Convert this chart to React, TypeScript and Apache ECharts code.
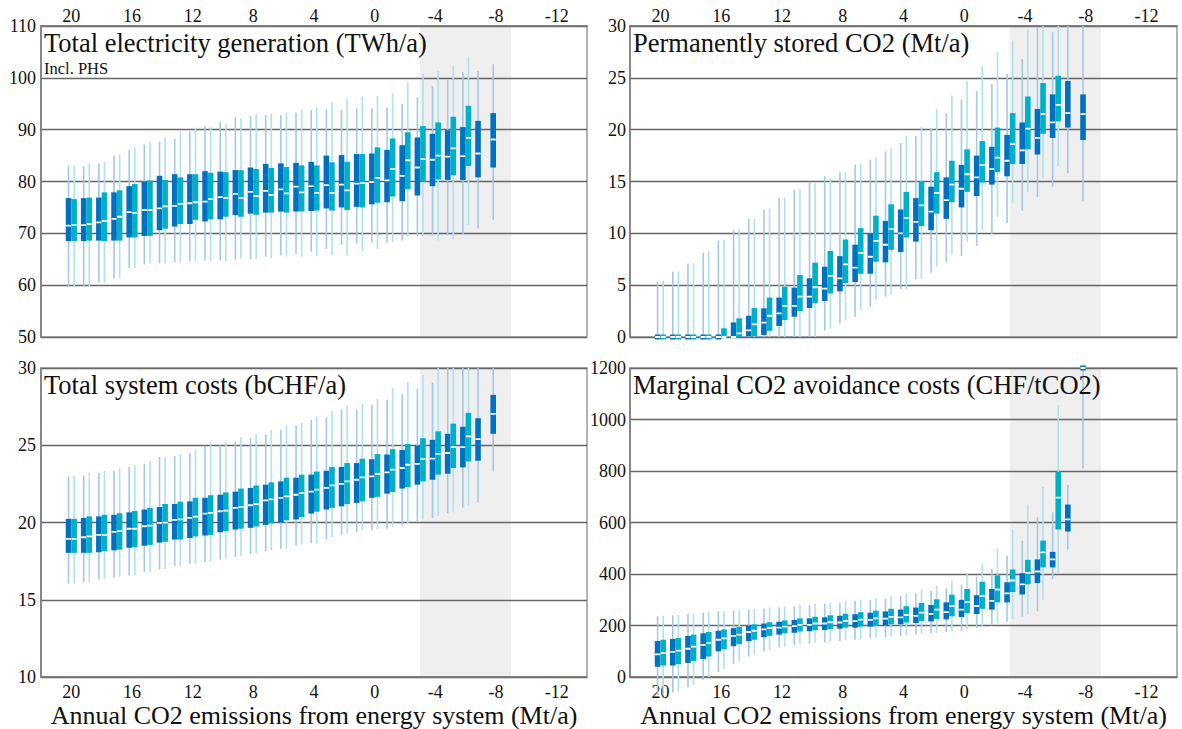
import React, { useEffect, useRef } from 'react';
import * as echarts from 'echarts';

// ---------- data ----------
const X_TICKS = [20, 16, 12, 8, 4, 0, -4, -8, -12];
const X_DARK = [20, 19, 18, 17, 16, 15, 14, 13, 12, 11, 10, 9, 8, 7, 6, 5, 4, 3, 2, 1, 0, -1, -2, -3, -4, -5, -6, -7, -8];
const X_TEAL = [20, 19, 18, 17, 16, 15, 14, 13, 12, 11, 10, 9, 8, 7, 6, 5, 4, 3, 2, 1, 0, -1, -2, -3, -4, -5, -6];
const BAND = [-3, -9];

// [min, Q1, median, Q3, max]
const ELEC_DARK = [
  [59.7, 68.5, 71.5, 76.8, 83.1], [59.7, 68.5, 71.6, 76.8, 83.0], [60.5, 68.6, 72.1, 76.9, 83.5], [61.3, 68.6, 72.8, 77.9, 85.0],
  [63.3, 69.2, 74.1, 79.1, 86.1], [64.0, 69.5, 74.5, 80.0, 87.1], [64.2, 70.6, 74.8, 81.1, 87.7], [64.4, 71.3, 75.3, 81.4, 88.3],
  [64.6, 71.8, 75.8, 81.4, 89.7], [64.7, 72.3, 76.1, 82.0, 90.7], [64.8, 72.7, 77.0, 81.9, 91.5], [64.9, 73.5, 77.6, 82.2, 92.4],
  [65.0, 73.8, 78.0, 82.7, 92.7], [65.5, 74.0, 78.2, 83.4, 92.8], [65.7, 74.2, 78.5, 83.5, 92.8], [66.0, 74.2, 79.0, 83.6, 93.3],
  [66.5, 74.3, 79.1, 83.8, 93.8], [67.0, 74.8, 79.3, 85.0, 93.9], [67.8, 75.0, 79.4, 85.1, 93.8], [68.1, 75.1, 79.6, 85.3, 94.1],
  [68.2, 75.6, 79.9, 85.4, 94.1], [68.2, 76.0, 80.2, 86.1, 94.3], [68.6, 76.2, 81.1, 87.0, 94.9], [69.4, 77.3, 82.7, 88.5, 96.2],
  [69.6, 79.1, 84.2, 89.2, 98.4], [69.7, 80.3, 84.8, 89.9, 99.6], [69.8, 80.3, 84.9, 90.5, 101.1], [71.0, 80.8, 85.4, 91.7, 101.3],
  [72.6, 82.7, 88.1, 93.2, 102.6],
];
const ELEC_TEAL = [
  [59.7, 68.5, 71.6, 76.6, 83.1], [59.7, 68.6, 71.8, 76.9, 83.5], [60.5, 68.5, 72.4, 77.9, 83.8], [61.3, 68.6, 73.2, 78.3, 85.2],
  [63.3, 69.2, 73.9, 79.5, 86.5], [64.2, 69.5, 74.5, 80.2, 87.7], [64.2, 70.9, 75.2, 80.3, 88.4], [64.4, 71.8, 75.7, 80.8, 89.7],
  [64.6, 72.6, 76.0, 81.4, 90.4], [64.7, 72.7, 76.6, 81.7, 90.5], [64.6, 73.2, 76.8, 81.8, 91.1], [65.1, 73.2, 76.8, 82.2, 92.2],
  [65.0, 73.6, 77.2, 82.4, 93.0], [65.2, 74.0, 77.4, 82.6, 93.1], [65.5, 74.0, 77.7, 82.8, 93.3], [65.5, 74.2, 77.9, 83.1, 93.9],
  [65.6, 74.4, 77.8, 83.1, 94.3], [65.7, 74.4, 77.8, 83.7, 95.4], [65.7, 74.5, 78.3, 83.8, 96.0], [66.5, 75.0, 79.7, 85.3, 96.4],
  [67.0, 75.9, 80.7, 86.6, 96.5], [68.3, 77.1, 82.4, 88.3, 97.0], [69.4, 78.5, 84.1, 89.5, 99.1], [69.4, 79.9, 84.3, 90.7, 100.9],
  [68.6, 80.4, 85.0, 91.4, 101.3], [68.9, 81.2, 86.4, 92.5, 102.3], [71.6, 83.0, 88.4, 94.6, 104.1],
];

const CO2_DARK = [
  [0, 0, 0, 0, 5.3], [0, 0, 0, 0, 6.3], [0, 0, 0, 0, 7.1], [0, 0, 0, 0, 8.1],
  [0, 0, 0, 0, 9.3], [0, 0, 0, 1.4, 10.3], [0, 0.07, 0.64, 2.05, 11.4], [0, 0.2, 1.38, 2.77, 12.3],
  [0, 1.06, 2.28, 3.8, 13.4], [0, 1.96, 3.0, 4.76, 14.2], [0, 2.8, 3.9, 5.66, 14.9], [0.65, 3.47, 4.66, 6.78, 15.5],
  [1.3, 4.4, 5.66, 7.8, 15.9], [1.96, 5.3, 6.7, 8.9, 16.6], [2.9, 6.1, 7.74, 10.0, 17.1], [3.9, 7.2, 8.9, 11.2, 17.9],
  [4.6, 8.2, 10.0, 12.3, 18.7], [5.6, 9.2, 11.1, 13.4, 19.4], [6.2, 10.3, 12.1, 14.5, 20.1], [7.2, 11.4, 13.2, 15.4, 21.6],
  [7.8, 12.5, 14.3, 16.6, 22.9], [8.8, 13.6, 15.4, 17.5, 23.7], [9.9, 14.7, 16.2, 18.35, 24.4], [11.0, 15.5, 17.0, 19.5, 25.4],
  [12.2, 16.7, 18.0, 20.7, 26.8], [13.5, 17.6, 19.2, 22.0, 29.9], [14.5, 19.2, 20.7, 23.4, 29.4], [15.8, 20.2, 21.6, 24.7, 30],
  [13.1, 19.0, 21.5, 23.4, 30],
];
const CO2_TEAL = [
  [0, 0, 0, 0, 5.4], [0, 0, 0, 0, 6.35], [0, 0, 0, 0, 7.1], [0, 0, 0, 0, 8.25],
  [0, 0, 0, 0.84, 9.4], [0, 0, 0.35, 1.8, 10.4], [0, 0.07, 1.22, 2.8, 11.4], [0, 0.6, 2.05, 3.8, 12.4],
  [0, 1.64, 3.0, 4.85, 13.4], [0, 2.5, 3.9, 5.98, 14.2], [0, 3.25, 4.8, 7.17, 14.8], [0.8, 4.2, 5.9, 8.3, 15.3],
  [1.6, 5.2, 7.0, 9.4, 15.9], [2.6, 6.1, 8.1, 10.5, 16.7], [3.6, 7.26, 9.26, 11.7, 17.35], [4.1, 8.4, 10.4, 12.8, 18.2],
  [4.6, 9.6, 11.5, 14.0, 19.4], [5.6, 10.7, 12.7, 15.0, 20.3], [6.8, 11.9, 13.9, 15.9, 22.0], [8.0, 13.0, 14.7, 17.0, 23.3],
  [9.2, 14.0, 15.7, 18.1, 24.7], [10.3, 14.9, 16.6, 18.9, 26.1], [11.6, 15.9, 17.3, 20.2, 27.5], [12.9, 16.7, 18.6, 21.6, 28.6],
  [14.0, 18.1, 20.1, 23.2, 29.7], [15.3, 19.6, 21.5, 24.5, 30], [16.5, 20.8, 22.4, 25.2, 30],
];

const COST_DARK = [
  [16.05, 18.04, 18.95, 20.24, 23.0], [16.15, 18.04, 19.05, 20.3, 23.05], [16.3, 18.08, 19.2, 20.4, 23.2], [16.45, 18.2, 19.4, 20.5, 23.35],
  [16.58, 18.37, 19.6, 20.66, 23.6], [16.8, 18.5, 19.76, 20.84, 23.8], [16.97, 18.7, 19.98, 21.0, 24.24], [17.18, 18.9, 20.17, 21.2, 24.3],
  [17.33, 19.0, 20.3, 21.37, 24.5], [17.44, 19.16, 20.58, 21.6, 24.97], [17.6, 19.37, 20.73, 21.8, 25.0], [17.78, 19.55, 20.95, 22.0, 25.25],
  [17.98, 19.66, 21.12, 22.24, 25.46], [18.15, 19.85, 21.44, 22.45, 25.7], [18.3, 20.0, 21.6, 22.66, 26.0], [18.5, 20.2, 21.8, 22.9, 26.26],
  [18.68, 20.58, 22.0, 23.1, 26.65], [18.9, 20.84, 22.24, 23.35, 26.8], [19.2, 21.05, 22.5, 23.6, 27.33], [19.37, 21.27, 22.77, 23.85, 27.3],
  [19.5, 21.6, 22.99, 24.1, 27.6], [19.6, 21.87, 23.25, 24.4, 27.94], [19.8, 22.2, 23.53, 24.7, 28.3], [20.1, 22.45, 23.8, 24.97, 28.65],
  [20.3, 22.77, 24.13, 25.35, 29.05], [20.6, 23.16, 24.5, 25.74, 30], [20.95, 23.57, 24.88, 26.2, 30], [21.3, 24.0, 25.4, 26.75, 30],
  [23.3, 25.74, 27.03, 28.26, 30],
];
const COST_TEAL = [
  [16.05, 18.04, 18.95, 20.24, 23.05], [16.15, 18.04, 19.1, 20.4, 23.2], [16.35, 18.15, 19.2, 20.5, 23.35], [16.5, 18.25, 19.45, 20.6, 23.5],
  [16.6, 18.4, 19.6, 20.75, 23.7], [16.8, 18.55, 19.8, 20.95, 24.0], [17.0, 18.75, 20.0, 21.2, 24.24], [17.18, 18.9, 20.2, 21.35, 24.45],
  [17.33, 19.1, 20.38, 21.6, 24.7], [17.47, 19.2, 20.63, 21.77, 25.2], [17.65, 19.45, 20.77, 21.95, 25.2], [17.82, 19.6, 21.0, 22.2, 25.5],
  [18.0, 19.75, 21.2, 22.4, 25.7], [18.2, 19.95, 21.5, 22.6, 26.0], [18.3, 20.15, 21.7, 22.9, 26.3], [18.58, 20.35, 21.9, 23.1, 26.45],
  [18.68, 20.7, 22.13, 23.3, 26.86], [19.07, 20.95, 22.4, 23.6, 27.23], [19.3, 21.2, 22.66, 23.85, 27.57], [19.5, 21.37, 22.92, 24.13, 27.66],
  [19.55, 21.66, 23.14, 24.43, 27.98], [19.7, 21.98, 23.42, 24.75, 28.69], [19.9, 22.3, 23.74, 25.08, 29.08], [20.2, 22.66, 24.1, 25.46, 29.55],
  [20.4, 23.1, 24.45, 25.9, 30], [20.7, 23.53, 24.88, 26.4, 30], [21.1, 23.95, 25.57, 27.1, 30],
];

const MAC_DARK = [
  [-70, 40, 88, 140, 236], [-60, 45, 98, 148, 240], [-40, 55, 110, 160, 245], [-10, 70, 125, 170, 250],
  [20, 100, 145, 180, 255], [50, 120, 160, 190, 258], [80, 140, 175, 200, 262], [100, 155, 185, 208, 265],
  [115, 165, 192, 215, 270], [125, 172, 198, 222, 275], [130, 178, 203, 228, 280], [135, 183, 208, 232, 285],
  [140, 188, 212, 238, 290], [145, 192, 217, 244, 295], [150, 196, 222, 250, 300], [155, 200, 227, 255, 305],
  [160, 205, 232, 262, 315], [165, 210, 238, 270, 325], [170, 216, 245, 280, 335], [175, 224, 252, 290, 345],
  [180, 233, 262, 300, 360], [190, 245, 276, 318, 390], [200, 262, 296, 342, 420], [215, 290, 325, 368, 470],
  [235, 321, 360, 403, 530], [255, 365, 410, 457, 620], [380, 426, 457, 486, 640], [495, 565, 612, 670, 747],
  [810, 1200, 1200, 1200, 1200],
];
const MAC_TEAL = [
  [-70, 45, 93, 145, 238], [-55, 50, 103, 152, 242], [-30, 62, 118, 165, 248], [0, 80, 132, 175, 252],
  [30, 108, 150, 185, 256], [60, 128, 165, 195, 260], [88, 145, 180, 205, 265], [105, 160, 190, 213, 270],
  [118, 170, 196, 220, 275], [128, 177, 203, 228, 280], [133, 182, 208, 234, 285], [138, 187, 213, 240, 290],
  [143, 192, 218, 246, 295], [148, 196, 223, 252, 300], [153, 200, 228, 258, 308], [158, 205, 234, 265, 315],
  [163, 212, 241, 275, 325], [168, 218, 250, 288, 340], [173, 226, 262, 302, 355], [178, 236, 276, 320, 375],
  [185, 248, 292, 342, 400], [195, 265, 315, 370, 440], [208, 290, 340, 395, 500], [225, 330, 375, 418, 573],
  [245, 360, 405, 455, 670], [300, 426, 484, 530, 739], [400, 573, 697, 797, 1057],
];

const PANELS = [
  { title: 'Total electricity generation (TWh/a)', sub: 'Incl. PHS', yMin: 50, yMax: 110, yStep: 10, dark: ELEC_DARK, teal: ELEC_TEAL, top: true },
  { title: 'Permanently stored CO2 (Mt/a)', sub: '', yMin: 0, yMax: 30, yStep: 5, dark: CO2_DARK, teal: CO2_TEAL, top: true },
  { title: 'Total system costs (bCHF/a)', sub: '', yMin: 10, yMax: 30, yStep: 5, dark: COST_DARK, teal: COST_TEAL, top: false },
  { title: 'Marginal CO2 avoidance costs (CHF/tCO2)', sub: '', yMin: 0, yMax: 1200, yStep: 200, dark: MAC_DARK, teal: MAC_TEAL, top: false },
];
const X_NAME = 'Annual CO2 emissions from energy system (Mt/a)';

// ---------- style ----------
const FONT = 'Liberation Serif';
const DARK = '#0070c0';
const TEAL = '#00b0c8';
const DARK_W = '#a4c7e8';
const TEAL_W = '#aee2ee';
const GRIDS = [
  { left: 41, top: 26, width: 546, height: 311 },
  { left: 630, top: 26, width: 547, height: 311 },
  { left: 41, top: 368, width: 546, height: 310 },
  { left: 630, top: 368, width: 547, height: 310 },
];

function boxRenderer(offset: number, fill: string, whisker: string) {
  return (params: any, api: any) => {
    const x = api.value(0);
    const pMin = api.coord([x, api.value(1)]);
    const pQ1 = api.coord([x, api.value(2)]);
    const pMed = api.coord([x, api.value(3)]);
    const pQ3 = api.coord([x, api.value(4)]);
    const pMax = api.coord([x, api.value(5)]);
    const cx = pMin[0] + offset;
    let top = pQ3[1];
    let h = pQ1[1] - pQ3[1];
    if (h < 5) {
      top = (pQ1[1] + pQ3[1]) / 2 - 2.5;
      h = 5;
    }
    return {
      type: 'group',
      children: [
        { type: 'line', shape: { x1: cx, y1: pMin[1], x2: cx, y2: pMax[1] }, style: { stroke: whisker, lineWidth: 1.6 } },
        { type: 'rect', shape: { x: cx - 2.8, y: top, width: 5.6, height: h }, style: { fill } },
        { type: 'line', shape: { x1: cx - 1.8, y1: pMed[1], x2: cx + 1.8, y2: pMed[1] }, style: { stroke: '#ffffff', lineWidth: 1.8, lineCap: 'round' } },
      ],
    };
  };
}

function bandRenderer(params: any, api: any) {
  const cs = params.coordSys;
  const a = api.coord([api.value(0), 0])[0];
  const b = api.coord([api.value(1), 0])[0];
  return {
    type: 'rect',
    shape: { x: Math.min(a, b), y: cs.y, width: Math.abs(b - a), height: cs.height },
    style: { fill: '#efefef' },
  };
}

export default function App() {
  const ref = useRef<HTMLDivElement>(null);
  useEffect(() => {
    if (!ref.current) return;
    const chart = echarts.init(ref.current, undefined, { renderer: 'svg' });
    const grid: any[] = [];
    const xAxis: any[] = [];
    const yAxis: any[] = [];
    const series: any[] = [];
    const graphic: any[] = [];
    PANELS.forEach((p, i) => {
      const g = GRIDS[i];
      grid.push({ ...g, show: true, borderColor: '#9a9a9a', borderWidth: 1.5, backgroundColor: 'transparent' });
      xAxis.push({
        type: 'value', gridIndex: i, min: -14, max: 22, inverse: true,
        position: p.top ? 'top' : 'bottom',
        name: p.top ? '' : X_NAME, nameLocation: 'middle', nameGap: 16,
        nameTextStyle: { fontFamily: FONT, fontSize: 26, color: '#111' },
        axisLine: { show: true, onZero: false, lineStyle: { color: '#777', width: 1.5 } },
        axisTick: { show: false },
        splitLine: { show: false },
        axisLabel: {
          customValues: X_TICKS, fontFamily: FONT, fontSize: 18, color: '#111',
          margin: p.top ? 1 : 6, formatter: (v: number) => String(v),
        },
      });
      yAxis.push({
        type: 'value', gridIndex: i, min: p.yMin, max: p.yMax, interval: p.yStep,
        axisLine: { show: true, onZero: false, lineStyle: { color: '#777', width: 1.5 } },
        axisTick: { show: false },
        splitLine: { show: true, lineStyle: { color: '#666', width: 1.3 } },
        axisLabel: {
          fontFamily: FONT, fontSize: 18, color: '#111', margin: i % 2 === 0 ? 5 : 4,
          formatter: (v: number) => String(v),
        },
      });
      series.push({
        type: 'custom', xAxisIndex: i, yAxisIndex: i, z: -1, silent: true,
        renderItem: bandRenderer, data: [BAND], encode: { x: [0, 1] },
      });
      series.push({
        type: 'custom', xAxisIndex: i, yAxisIndex: i, silent: true,
        renderItem: boxRenderer(-2.8, DARK, DARK_W),
        data: X_DARK.map((x, k) => [x, ...p.dark[k]]),
        encode: { x: 0, y: [1, 2, 3, 4, 5] },
      });
      series.push({
        type: 'custom', xAxisIndex: i, yAxisIndex: i, silent: true,
        renderItem: boxRenderer(2.8, TEAL, TEAL_W),
        data: X_TEAL.map((x, k) => [x, ...p.teal[k]]),
        encode: { x: 0, y: [1, 2, 3, 4, 5] },
      });
      graphic.push({
        type: 'text', left: g.left + 3, top: g.top + 3, z: 10,
        style: { text: p.title, fontFamily: FONT, fontSize: 26.5, fill: '#111' },
      });
      if (p.sub) {
        graphic.push({
          type: 'text', left: g.left + 3, top: g.top + 34, z: 10,
          style: { text: p.sub, fontFamily: FONT, fontSize: 16.5, fill: '#111' },
        });
      }
    });
    chart.setOption({
      animation: false,
      backgroundColor: '#ffffff',
      grid, xAxis, yAxis, series, graphic,
    });
    return () => chart.dispose();
  }, []);
  return <div ref={ref} style={{ position: 'absolute', left: 0, top: 0, width: 1182, height: 729 }} />;
}
